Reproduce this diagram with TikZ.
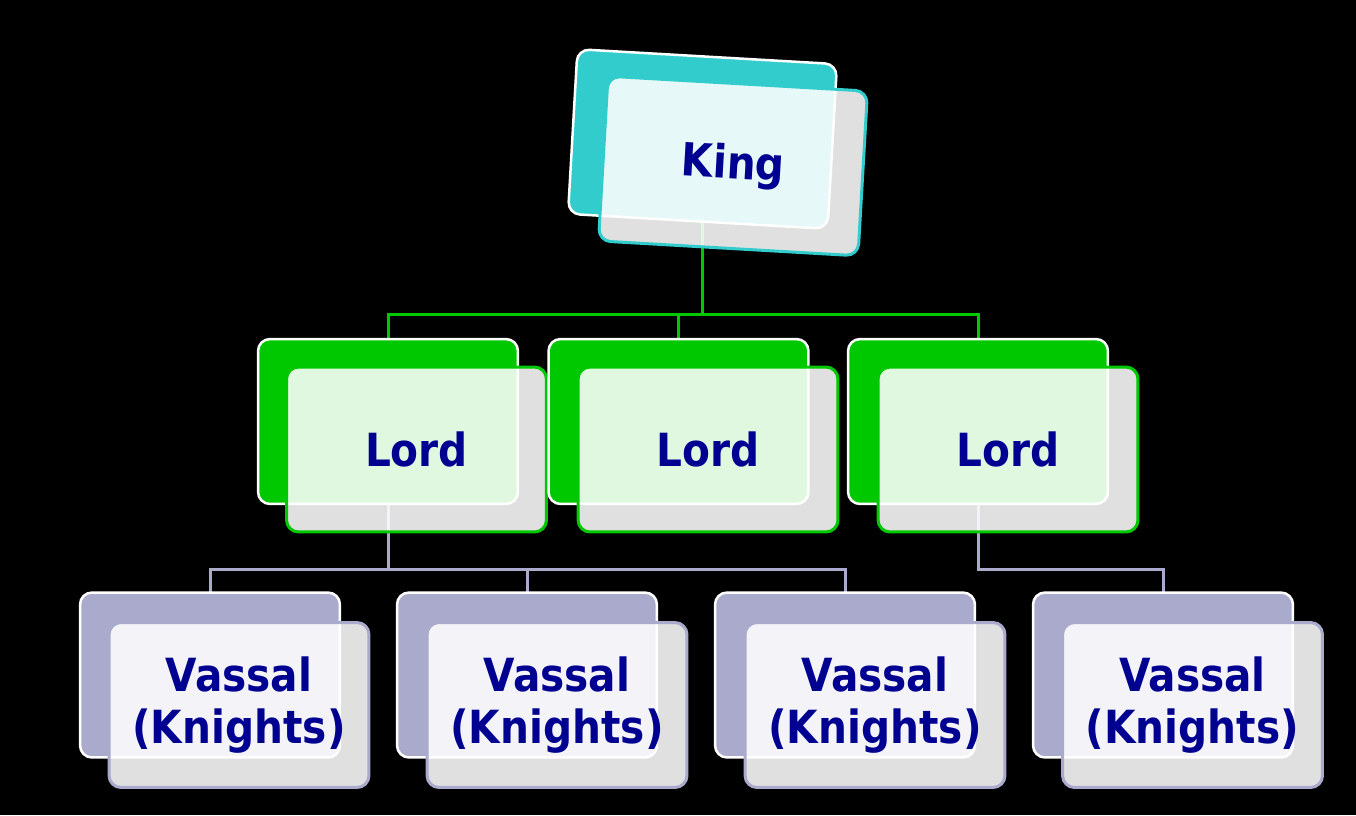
\documentclass[tikz,border=0pt]{standalone}
\usepackage{fontspec}
\setmainfont{DejaVu Sans}[FakeStretch=0.89]
\usetikzlibrary{calc,positioning,backgrounds}
\definecolor{kingTeal}{RGB}{51,204,204}
\definecolor{lordGreen}{RGB}{0,200,0}
\definecolor{vassalLav}{RGB}{170,170,204}
\definecolor{rankInk}{RGB}{0,0,145}
\tikzset{
  backcard/.style={
    fill=#1,
    draw=white,
    rounded corners=0.24cm,
    line width=0.05cm,
    minimum width=5.2cm,
    minimum height=3.3cm,
    inner sep=0pt
  },
  frontcard/.style={
    fill=white,
    fill opacity=0.88,
    text opacity=1,
    draw=#1,
    rounded corners=0.24cm,
    line width=0.06cm,
    minimum width=5.2cm,
    minimum height=3.3cm,
    inner sep=0pt,
    align=center,
    text=rankInk,
    font=\fontsize{26}{29.5}\selectfont\bfseries
  },
  linkgreen/.style={draw=lordGreen,line width=0.06cm},
  linklav/.style={draw=vassalLav,line width=0.06cm}
}
% #1 name, #2 back centre, #3 front centre, #4 colour, #5 text, #6 angle
\newcommand{\rankcard}[6]{%
  \node[backcard=#4,rotate=#6] (#1b) at #2 {};
  \node[frontcard=#4,rotate=#6] (#1) at #3 {#5};
}

\begin{document}
\begin{tikzpicture}[x=0.02cm,y=-0.02cm]
  \useasboundingbox (0,0) rectangle (1356,815);
  \rankcard{king}{(702.5,139)}{(733,166)}{kingTeal}{King}{-3.3}
  \rankcard{lordA}{(388,421.5)}{(416.5,449.5)}{lordGreen}{Lord}{0}
  \rankcard{lordB}{(678.5,421.5)}{(708,449.5)}{lordGreen}{Lord}{0}
  \rankcard{lordC}{(978,421.5)}{(1008,449.5)}{lordGreen}{Lord}{0}
  \rankcard{vassalA}{(210,675)}{(239,705)}{vassalLav}{Vassal\\(Knights)}{0}
  \rankcard{vassalB}{(527,675)}{(557,705)}{vassalLav}{Vassal\\(Knights)}{0}
  \rankcard{vassalC}{(845,675)}{(875,705)}{vassalLav}{Vassal\\(Knights)}{0}
  \rankcard{vassalD}{(1163,675)}{(1192.5,705)}{vassalLav}{Vassal\\(Knights)}{0}
  \coordinate (kbus) at (702.5,314);
  \coordinate (abus) at (388,569);
  \coordinate (cbus) at (978,569);
  \begin{scope}[on background layer]
    \fill[black] (0,0) rectangle (1356,815);
    % king to lords
    \draw[linkgreen] (kingb.center) -- (kbus) -| (lordAb.center);
    \draw[linkgreen] (kbus) -| (lordBb.center);
    \draw[linkgreen] (kbus) -| (lordCb.center);
    % lords to vassals
    \draw[linklav] (lordAb.center) -- (abus) -| (vassalAb.center);
    \draw[linklav] (abus) -| (vassalBb.center);
    \draw[linklav] (abus) -| (vassalCb.center);
    \draw[linklav] (lordCb.center) -- (cbus) -| (vassalDb.center);
  \end{scope}
\end{tikzpicture}
\end{document}
